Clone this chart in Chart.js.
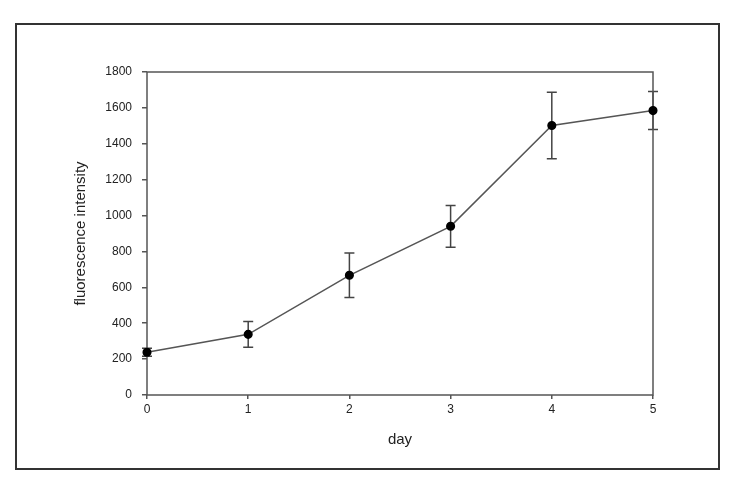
<!DOCTYPE html>
<html>
<head>
<meta charset="utf-8">
<script src="https://cdn.jsdelivr.net/npm/chart.js@4"></script>
<style>
  body { margin: 0; background: #fff; }
  #wrap { position: relative; width: 734px; height: 491px; }
  #frame {
    position: absolute; left: 15px; top: 23px; width: 701px; height: 443px;
    border: 2px solid #333; pointer-events: none;
  }
</style>
</head>
<body>
<div id="wrap">
  <canvas id="chart" width="734" height="491"></canvas>
  <div id="frame"></div>
</div>
<script>
// --- data ---
const days = [0, 1, 2, 3, 4, 5];
const intensity = [238, 338, 667, 940, 1502, 1585];
const errors = [22, 72, 124, 116, 185, 106];
const yTicks = [0, 200, 400, 600, 800, 1000, 1200, 1400, 1600, 1800];

const points = days.map((d, i) => ({ x: d, y: intensity[i] }));

// error bars, drawn under the markers
const errorBars = {
  id: "errorBars",
  beforeDatasetsDraw(chart) {
    const { ctx, scales: { x, y } } = chart;
    ctx.save();
    ctx.strokeStyle = "#444";
    ctx.lineWidth = 1.5;
    days.forEach((d, i) => {
      const px = x.getPixelForValue(d);
      const top = y.getPixelForValue(intensity[i] + errors[i]);
      const bot = y.getPixelForValue(intensity[i] - errors[i]);
      ctx.beginPath();
      ctx.moveTo(px, top); ctx.lineTo(px, bot);
      ctx.moveTo(px - 5, top); ctx.lineTo(px + 5, top);
      ctx.moveTo(px - 5, bot); ctx.lineTo(px + 5, bot);
      ctx.stroke();
    });
    ctx.restore();
  },
};

// box round the plot area
const plotBox = {
  id: "plotBox",
  beforeDatasetsDraw(chart) {
    const { ctx, chartArea: a } = chart;
    ctx.save();
    ctx.strokeStyle = "#555";
    ctx.lineWidth = 1.5;
    ctx.strokeRect(a.left, a.top, a.right - a.left, a.bottom - a.top);
    ctx.restore();
  },
};

const tickFont = { family: "Liberation Sans, Arial, sans-serif", size: 12 };
const titleFont = { family: "Liberation Sans, Arial, sans-serif", size: 15 };

new Chart(document.getElementById("chart"), {
  type: "line",
  data: {
    datasets: [
      {
        data: points,
        borderColor: "#555",
        borderWidth: 1.5,
        pointRadius: 3.8,
        pointBackgroundColor: "#000",
        pointBorderColor: "#000",
        tension: 0,
        clip: false,
      },
    ],
  },
  options: {
    responsive: false,
    animation: false,
    layout: { padding: { left: 0, right: 81, top: 72, bottom: 0 } },
    plugins: { legend: { display: false }, tooltip: { enabled: false } },
    scales: {
      x: {
        type: "linear",
        min: 0,
        max: 5,
        afterFit: (s) => { s.height = 96; },
        ticks: { stepSize: 1, color: "#222", font: tickFont, padding: 3, callback: (v) => String(v) },
        grid: { drawOnChartArea: false, tickLength: 4, color: "#555", lineWidth: 1.5 },
        border: { display: false },
        title: { display: true, text: "day", color: "#222", font: titleFont, padding: { top: 0, bottom: 42 } },
      },
      y: {
        min: 0,
        max: 1800,
        afterFit: (s) => { s.width = 147; },
        afterBuildTicks: (s) => { s.ticks = yTicks.map((v) => ({ value: v })); },
        ticks: { color: "#222", font: tickFont, padding: 10, callback: (v) => String(v) },
        grid: { drawOnChartArea: false, tickLength: 5, color: "#555", lineWidth: 1.5 },
        border: { display: false },
        title: { display: true, text: "fluorescence intensity", color: "#222", font: titleFont, padding: { top: 72, bottom: 0 } },
      },
    },
  },
  plugins: [errorBars, plotBox],
});
</script>
</body>
</html>
